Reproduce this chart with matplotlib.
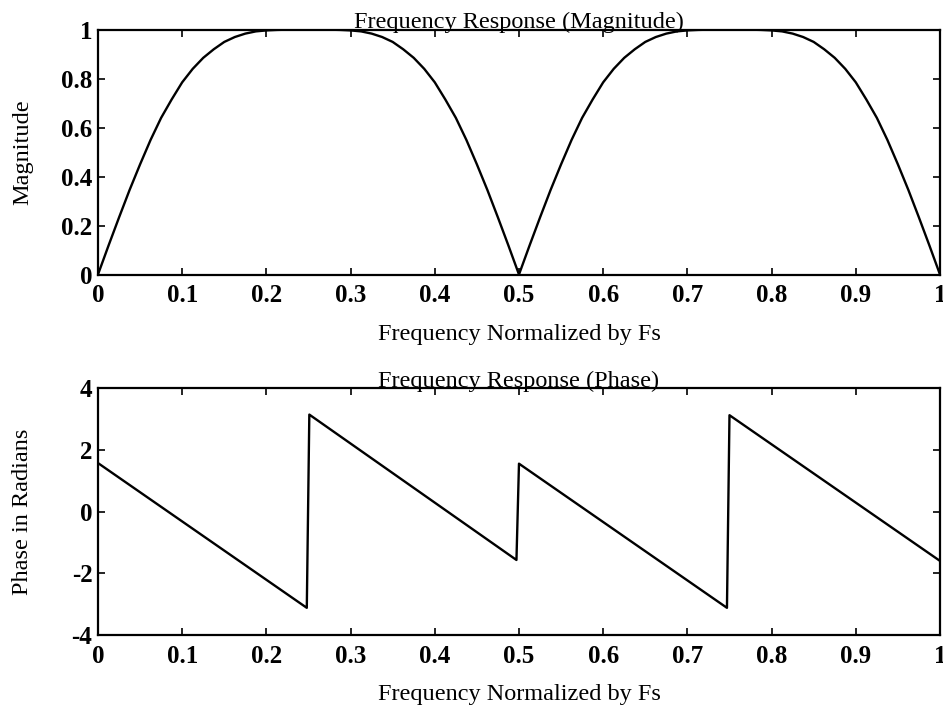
import matplotlib
matplotlib.use("Agg")
import matplotlib.pyplot as plt

# magnitude response (frequency normalised by Fs)
mag_freq = [0.0, 0.0125, 0.025, 0.0375, 0.05, 0.0625, 0.075, 0.0875, 0.1, 0.1125,
            0.125, 0.1375, 0.15, 0.1625, 0.175, 0.1875, 0.2, 0.2125, 0.225, 0.2375,
            0.25, 0.2625, 0.275, 0.2875, 0.3, 0.3125, 0.325, 0.3375, 0.35, 0.3625,
            0.375, 0.3875, 0.4, 0.4125, 0.425, 0.4375, 0.45, 0.4625, 0.475, 0.4875,
            0.5, 0.5125, 0.525, 0.5375, 0.55, 0.5625, 0.575, 0.5875, 0.6, 0.6125,
            0.625, 0.6375, 0.65, 0.6625, 0.675, 0.6875, 0.7, 0.7125, 0.725, 0.7375,
            0.75, 0.7625, 0.775, 0.7875, 0.8, 0.8125, 0.825, 0.8375, 0.85, 0.8625,
            0.875, 0.8875, 0.9, 0.9125, 0.925, 0.9375, 0.95, 0.9625, 0.975, 0.9875,
            1.0]
mag_vals = [0.0, 0.118, 0.233, 0.345, 0.45, 0.55, 0.64, 0.715, 0.785, 0.84,
            0.885, 0.92, 0.95, 0.97, 0.984, 0.993, 0.997, 0.999, 1.0, 1.0,
            1.0, 1.0, 1.0, 0.999, 0.997, 0.993, 0.984, 0.97, 0.95, 0.92,
            0.885, 0.84, 0.785, 0.715, 0.64, 0.55, 0.45, 0.345, 0.233, 0.118,
            0.0, 0.118, 0.233, 0.345, 0.45, 0.55, 0.64, 0.715, 0.785, 0.84,
            0.885, 0.92, 0.95, 0.97, 0.984, 0.993, 0.997, 0.999, 1.0, 1.0,
            1.0, 1.0, 1.0, 0.999, 0.997, 0.993, 0.984, 0.97, 0.95, 0.92,
            0.885, 0.84, 0.785, 0.715, 0.64, 0.55, 0.45, 0.345, 0.233, 0.118,
            0.0]

# phase response (wrapped), corner points
phase_freq = [0.0, 0.248, 0.251, 0.497, 0.5, 0.747, 0.75, 1.0]
phase_vals = [1.57, -3.12, 3.14, -1.57, 1.55, -3.12, 3.12, -1.6]

xticks = [0, 0.1, 0.2, 0.3, 0.4, 0.5, 0.6, 0.7, 0.8, 0.9, 1]
xticklabels = ["0", "0.1", "0.2", "0.3", "0.4", "0.5", "0.6", "0.7", "0.8", "0.9", "1"]
mag_yticks = [0, 0.2, 0.4, 0.6, 0.8, 1]
mag_yticklabels = ["0", "0.2", "0.4", "0.6", "0.8", "1"]
phase_yticks = [-4, -2, 0, 2, 4]
phase_yticklabels = ["-4", "-2", "0", "2", "4"]

plt.rcParams["font.family"] = ["Liberation Serif", "DejaVu Serif"]

fig = plt.figure(figsize=(9.43, 7.05), dpi=100)
ax1 = fig.add_axes([0.1039, 0.6106, 0.8929, 0.3473])
ax2 = fig.add_axes([0.1039, 0.0993, 0.8929, 0.3503])


def style(ax, yticks, yticklabels, ylabel, title, ylabelpad):
    ax.set_xlim(0, 1)
    ax.set_xticks(xticks)
    ax.set_xticklabels(xticklabels, fontsize=18, fontweight="bold")
    ax.set_yticks(yticks)
    ax.set_yticklabels(yticklabels, fontsize=18, fontweight="bold")
    ax.tick_params(axis="x", direction="in", length=5, width=1.2, top=True, pad=7)
    ax.tick_params(axis="y", direction="in", length=5, width=1.2, right=True, pad=4)
    for sp in ax.spines.values():
        sp.set_linewidth(1.6)
    ax.set_xlabel("Frequency Normalized by Fs", fontsize=17.5, labelpad=12)
    ax.set_ylabel(ylabel, fontsize=17.5, labelpad=ylabelpad)
    ax.set_title(title, fontsize=17.5, pad=1)


ax1.plot(mag_freq, mag_vals, color="black", linewidth=1.7)
ax1.set_ylim(0, 1)
style(ax1, mag_yticks, mag_yticklabels, "Magnitude", "Frequency Response (Magnitude)", 20)

ax2.plot(phase_freq, phase_vals, color="black", linewidth=1.7)
ax2.set_ylim(-4, 4)
style(ax2, phase_yticks, phase_yticklabels, "Phase in Radians", "Frequency Response (Phase)", 28)

fig.savefig("out.png", dpi=100)
